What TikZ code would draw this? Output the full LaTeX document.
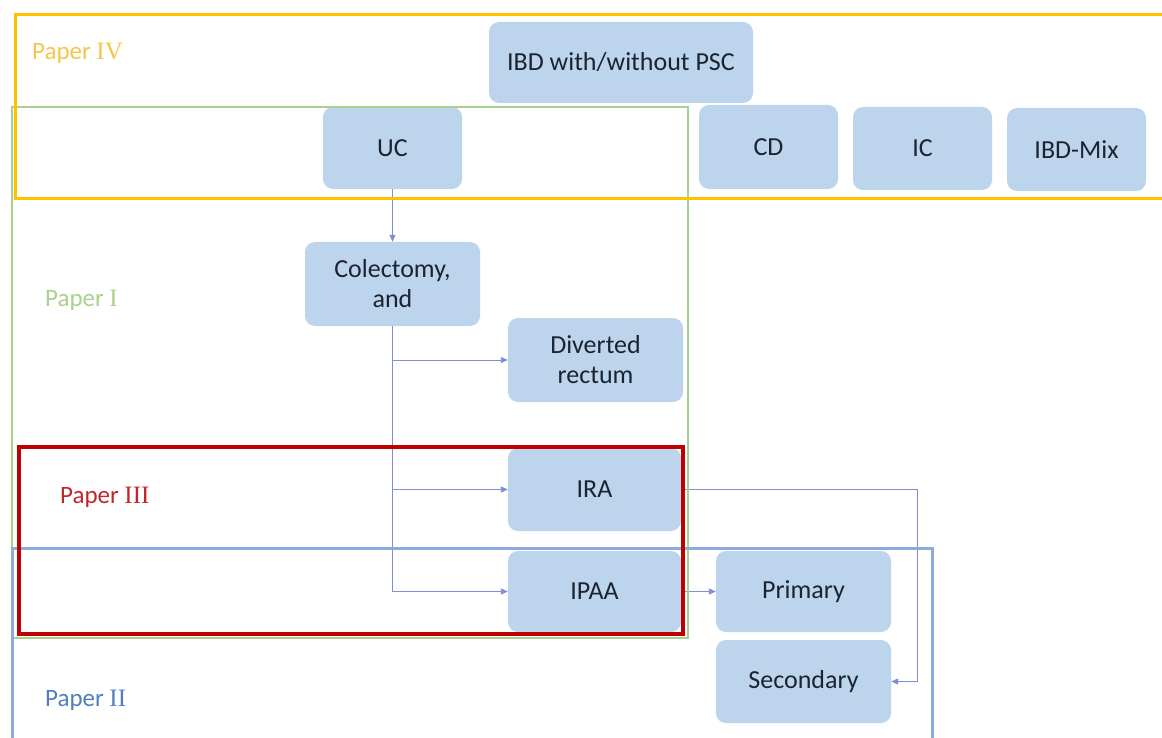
\documentclass[tikz,border=0pt]{standalone}
\usepackage{fontspec}
\setmainfont{Carlito}
\newfontfamily\romfont{Liberation Serif}
\usetikzlibrary{arrows.meta,calc}
\definecolor{nodefill}{HTML}{BDD5EC}
\definecolor{nodetext}{HTML}{1C2330}
\definecolor{conncol}{HTML}{7F8ED0}
\definecolor{yelframe}{HTML}{FFC000}
\definecolor{yellab}{HTML}{F4C64A}
\definecolor{grnframe}{HTML}{A9D18E}
\definecolor{grnlab}{HTML}{A9D18E}
\definecolor{redframe}{HTML}{C00000}
\definecolor{redlab}{HTML}{C0262D}
\definecolor{bluframe}{HTML}{8EA9DB}
\definecolor{blulab}{HTML}{4F7FBF}
\begin{document}
\begin{tikzpicture}[x=1pt,y=-1pt,
  box/.style={rectangle, rounded corners=10pt, fill=nodefill, text=nodetext, align=center, inner sep=0pt, font=\fontsize{26}{30}\selectfont},
  conn/.style={draw=conncol, line width=0.9pt, -{Triangle[length=7pt,width=6pt]}},
  framebox/.style={line width=3pt},
  lab/.style={anchor=west, inner sep=0pt, font=\fontsize{25}{28}\selectfont}
]
\useasboundingbox (0,0) rectangle (1162,738);
\clip (0,0) rectangle (1162,738);
\fill[white] (0,0) rectangle (1162,738);

% nodes
\node[box, minimum width=264pt, minimum height=81pt] (ibd) at (621,62.5) {IBD with/without PSC};
\node[box, minimum width=139pt, minimum height=82pt] (uc) at (392.5,148) {UC};
\node[box, minimum width=139pt, minimum height=84pt] (cd) at (768.5,147) {CD};
\node[box, minimum width=139pt, minimum height=83pt] (ic) at (922.5,148.5) {IC};
\node[box, minimum width=139pt, minimum height=83pt] (mix) at (1076.5,149.5) {IBD-Mix};
\node[box, minimum width=175pt, minimum height=84pt] (col) at (392.5,284) {Colectomy,\\and};
\node[box, minimum width=175pt, minimum height=84pt] (div) at (595.5,360) {Diverted\\rectum};
\node[box, minimum width=173pt, minimum height=83pt] (ira) at (594.5,489.5) {IRA};
\node[box, minimum width=173pt, minimum height=81pt] (ipaa) at (594.5,591.5) {IPAA};
\node[box, minimum width=175pt, minimum height=81pt] (pri) at (803.5,591.5) {Primary};
\node[box, minimum width=175pt, minimum height=83pt] (sec) at (803.5,681.5) {Secondary};

% connectors
\coordinate (rt) at (917,0);
\draw[conn] (uc.south) -- (col.north);
\draw[conn] (col.south) |- (ipaa.west);
\draw[conn] (col.south |- div.west) -- (div.west);
\draw[conn] (col.south |- ira.west) -- (ira.west);
\draw[conn] (ipaa.east) -- (pri.west);
\draw[conn] (ira.east) -| (rt |- sec.east) -- (sec.east);

% frames
\draw[framebox, draw=grnframe, line width=2.8pt] (12,107) rectangle (688,638);
\draw[framebox, draw=yelframe] (15,15) rectangle (1180,199);
\draw[framebox, draw=bluframe] (12,548) rectangle (932,760);
\draw[framebox, draw=redframe, line width=3.5pt] (19,447) rectangle (683,634);

% labels
\node[lab, text=yellab] (l4) at (32,53) {Paper {\romfont IV}};
\node[lab, text=grnlab] (l1) at (45,300) {Paper {\romfont I}};
\node[lab, text=redlab] (l3) at (60,497) {Paper {\romfont III}};
\node[lab, text=blulab] (l2) at (45,700) {Paper {\romfont II}};
\end{tikzpicture}
\end{document}
